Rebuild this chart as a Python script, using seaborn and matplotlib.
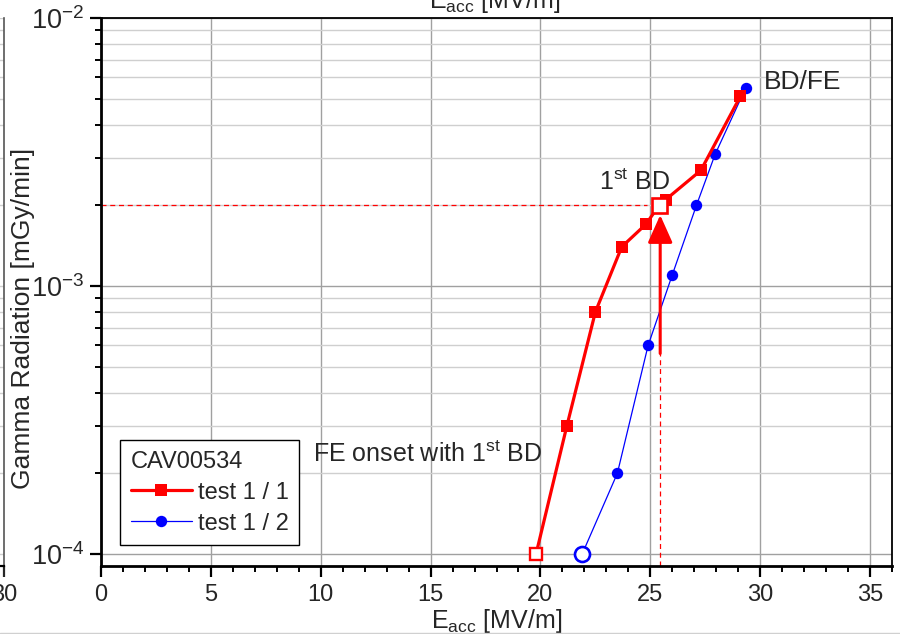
import numpy as np
import pandas as pd
import matplotlib
matplotlib.use("Agg")
import matplotlib.pyplot as plt
import seaborn as sns
from matplotlib.lines import Line2D
from matplotlib.ticker import LogLocator, MultipleLocator, NullFormatter, FixedLocator, FixedFormatter

# ---------------- data ----------------
e_test11 = [19.8, 21.2, 22.5, 23.7, 24.8, 25.4, 25.7, 27.3, 29.1]
g_test11 = [1.0e-4, 3.0e-4, 8.0e-4, 1.4e-3, 1.7e-3, 2.0e-3, 2.1e-3, 2.7e-3, 5.1e-3]
e_test12 = [21.9, 23.5, 24.9, 26.0, 27.1, 27.95, 29.35]
g_test12 = [1.0e-4, 2.0e-4, 6.0e-4, 1.1e-3, 2.0e-3, 3.1e-3, 5.5e-3]
series_labels = ["test 1 / 1", "test 1 / 2"]
legend_title = "CAV00534"
bd_field = 25.45
bd_gamma = 2.0e-3
arrow_tail = 5.6e-4
arrow_tip = 1.84e-3
x_ticks = [0, 5, 10, 15, 20, 25, 30, 35]
y_ticks = [1e-4, 1e-3, 1e-2]

# ---------------- style ----------------
sns.set_style("white")
plt.rcParams["font.family"] = ["Liberation Sans", "DejaVu Sans"]
plt.rcParams["mathtext.default"] = "regular"

W, H = 900, 634
fig = plt.figure(figsize=(W / 100, H / 100), dpi=100)

def px_rect(x0, y0, x1, y1):
    return [x0 / W, 1 - y1 / H, (x1 - x0) / W, (y1 - y0) / H]

ax = fig.add_axes(px_rect(101, 18, 892, 566))

ylo = 10 ** (-2 - 548 / 268)
ax.set_yscale("log")
ax.set_xlim(0, 36)
ax.set_ylim(ylo, 1e-2)

# grid
ax.yaxis.set_major_locator(FixedLocator(y_ticks))
ax.yaxis.set_minor_locator(LogLocator(base=10, subs=np.arange(2, 10)))
ax.yaxis.set_minor_formatter(NullFormatter())
ax.xaxis.set_major_locator(FixedLocator(x_ticks))
ax.xaxis.set_minor_locator(MultipleLocator(1))
ax.grid(True, which="major", axis="both", color="#a0a0a0", lw=1.0, zorder=0)
ax.grid(True, which="minor", axis="y", color="#cfcfcf", lw=1.0, zorder=0)
ax.set_axisbelow(True)

df11 = pd.DataFrame({"E": e_test11, "G": g_test11, "test": series_labels[0]})
df12 = pd.DataFrame({"E": e_test12, "G": g_test12, "test": series_labels[1]})

# dashed guide lines
ax.plot([0, 24.86], [bd_gamma, bd_gamma], color="red", lw=0.9, ls=(0, (4, 3)), zorder=2)
ax.plot([bd_field, bd_field], [ylo, arrow_tail], color="red", lw=0.9, ls=(0, (4, 3)), zorder=2)

sns.lineplot(data=df12, x="E", y="G", color="blue", lw=0.9, marker="o", markersize=8.2,
             markeredgewidth=0, sort=False, estimator=None, ax=ax, zorder=3, legend=False)
sns.lineplot(data=df11, x="E", y="G", color="red", lw=2.3, marker="s", markersize=8,
             markeredgewidth=0, sort=False, estimator=None, ax=ax, zorder=4, legend=False)

# open markers
ax.plot([e_test11[0]], [g_test11[0]], ls="none", marker="s", ms=8.8, mfc="white", mec="red", mew=1.7, zorder=5)
ax.plot([e_test11[5]], [g_test11[5]], ls="none", marker="s", ms=10.8, mfc="white", mec="red", mew=1.9, zorder=5)
ax.plot([e_test12[0]], [g_test12[0]], ls="none", marker="o", ms=10.8, mfc="white", mec="blue", mew=1.9, zorder=5)

# arrow
ax.annotate("", xy=(bd_field, arrow_tip), xytext=(bd_field, arrow_tail),
            arrowprops=dict(arrowstyle="-|>,head_length=0.85,head_width=0.38", color="red",
                            lw=2.2, shrinkA=0, shrinkB=0, mutation_scale=20), zorder=6)

# texts
ax.text(22.68, 2.28e-3, "1$^{st}$ BD", fontsize=18, va="baseline", ha="left", zorder=7)
ax.text(30.18, 5.43e-3, "BD/FE", fontsize=19, va="baseline", ha="left", zorder=7)
ax.text(9.64, 2.2e-4, "FE onset with 1$^{st}$ BD", fontsize=18, va="baseline", ha="left", zorder=7)

# legend
handles = [
    Line2D([], [], color="red", lw=2.3, marker="s", markersize=8, markeredgewidth=0),
    Line2D([], [], color="blue", lw=0.9, marker="o", markersize=8.2, markeredgewidth=0),
]
leg = ax.legend(handles, series_labels, title=legend_title, loc="lower left",
                bbox_to_anchor=(0.024, 0.038), borderaxespad=0, fontsize=17, title_fontsize=17,
                frameon=True, fancybox=False, framealpha=1, edgecolor="black",
                handlelength=2.6, handletextpad=0.25, alignment="left", borderpad=0.45,
                labelspacing=0.38)
leg.get_frame().set_linewidth(1.0)

# spines & ticks
for s in ["left", "bottom"]:
    ax.spines[s].set_linewidth(2.0)
    ax.spines[s].set_color("black")
for s in ["top", "right"]:
    ax.spines[s].set_linewidth(1.3)
    ax.spines[s].set_color("black")
ax.tick_params(axis="both", which="major", direction="out", length=8, width=1.6, color="black",
               left=True, bottom=True)
ax.tick_params(axis="both", which="minor", direction="out", length=4.5, width=1.4, color="black",
               left=True, bottom=True)
ax.tick_params(axis="x", which="major", labelsize=17, pad=5)
ax.tick_params(axis="y", which="major", labelsize=19.5, pad=4)
ax.set_xticklabels([str(v) for v in x_ticks])

ax.set_xlabel("E$_{acc}$ [MV/m]", fontsize=18, labelpad=1)
ax.set_ylabel("Gamma Radiation [mGy/min]", fontsize=19)
ax.yaxis.set_label_coords(-0.083, 0.4526)

# partial neighbouring panel at the left edge (cropped)
ax0 = fig.add_axes(px_rect(-300, 18, 4, 566))
ax0.set_yscale("log")
ax0.set_ylim(ylo, 1e-2)
ax0.set_xlim(0, 30)
ax0.xaxis.set_major_locator(FixedLocator([30]))
ax0.xaxis.set_major_formatter(FixedFormatter(["30"]))
ax0.yaxis.set_major_locator(FixedLocator(y_ticks))
ax0.yaxis.set_minor_locator(LogLocator(base=10, subs=np.arange(2, 10)))
ax0.yaxis.set_major_formatter(NullFormatter())
ax0.yaxis.set_minor_formatter(NullFormatter())
ax0.grid(True, which="both", axis="y", color="#cfcfcf", lw=1.0)
for s in ["left", "top"]:
    ax0.spines[s].set_visible(False)
ax0.spines["right"].set_color("#555555")
ax0.spines["right"].set_linewidth(1.2)
ax0.spines["bottom"].set_color("black")
ax0.spines["bottom"].set_linewidth(1.6)
ax0.tick_params(axis="x", direction="out", length=8, width=1.6, labelsize=17, pad=5, bottom=True)
ax0.tick_params(axis="y", which="both", left=False, right=False)

# cropped label at the very top and bottom frame line
fig.text(0.549, 1 - 8 / H, "E$_{acc}$ [MV/m]", fontsize=18, ha="center", va="baseline")
fig.add_artist(Line2D([0, 1], [0.6 / H, 0.6 / H], color="#d0d0d0", lw=1.0, transform=fig.transFigure))

fig.savefig("out.png", dpi=100)
